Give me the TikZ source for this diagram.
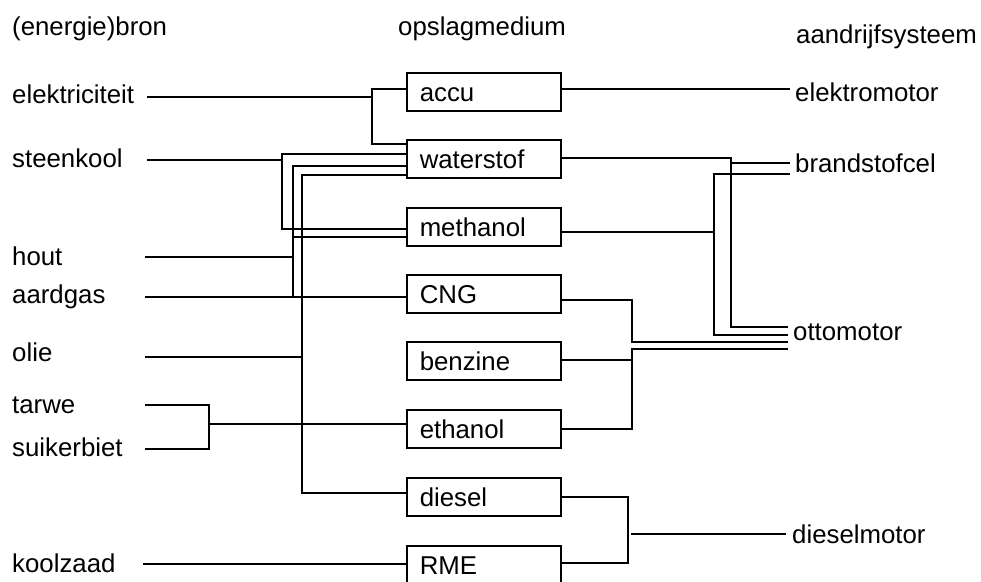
\documentclass[tikz,border=0pt]{standalone}
\usepackage{fontspec}
\setmainfont{Liberation Sans}
\begin{document}
\begin{tikzpicture}[x=1pt,y=-1pt, font=\fontsize{25.8}{30}\selectfont,
  wire/.style={line width=1.5pt},
  lab/.style={anchor=base west, inner sep=0pt},
  box/.style={draw, line width=1.5pt, anchor=north west, minimum width=154pt,
    minimum height=38pt, inner xsep=13pt, inner ysep=7pt, text height=22pt,
    text depth=2pt, text width=128pt, align=left}]
\useasboundingbox (0,0) rectangle (981,581);

% column headers
\node[lab] (hbron) at (12,35) {(energie)bron};
\node[lab] (hopslag) at (398,35) {opslagmedium};
\node[lab] (haandr) at (796,43) {aandrijfsysteem};

% sources
\node[lab] (elek) at (12,103) {elektriciteit};
\node[lab] (steen) at (12,167) {steenkool};
\node[lab] (hout) at (12,265) {hout};
\node[lab] (aard) at (12,303) {aardgas};
\node[lab] (olie) at (12,361) {olie};
\node[lab] (tarwe) at (12,413) {tarwe};
\node[lab] (suiker) at (12,456) {suikerbiet};
\node[lab] (kool) at (12,572) {koolzaad};

% storage boxes
\node[box] (accu) at (406,72) {accu};
\node[box] (waterstof) at (406,139) {waterstof};
\node[box] (methanol) at (406,207) {methanol};
\node[box] (CNG) at (406,274) {CNG};
\node[box] (benzine) at (406,341) {benzine};
\node[box] (ethanol) at (406,409) {ethanol};
\node[box] (diesel) at (406,477) {diesel};
\node[box] (RME) at (406,545) {RME};

% drive systems
\node[lab] (emotor) at (795,101) {elektromotor};
\node[lab] (bcel) at (795,172) {brandstofcel};
\node[lab] (otto) at (793,340) {ottomotor};
\node[lab] (dmotor) at (792,543) {dieselmotor};

% free ends
\coordinate (s1) at (147,97);
\coordinate (s2) at (147,160);
\coordinate (s3) at (145,257);
\coordinate (s4) at (145,297);
\coordinate (s5) at (145,357);
\coordinate (s6) at (145,405);
\coordinate (s7) at (145,449);
\coordinate (s8) at (143,564);
\coordinate (e1) at (790,89);
\coordinate (b1) at (790,163);
\coordinate (b2) at (790,174);
\coordinate (o1) at (788,327);
\coordinate (o2) at (788,335);
\coordinate (o3) at (788,342);
\coordinate (o4) at (788,349);
\coordinate (d1) at (786,534);

% left wiring
\draw[wire] (s1) -- (372,97);
\draw[wire] (accu.west |- 0,89) -| (372,144) -- (waterstof.west |- 0,144);
\draw[wire] (s2) -- (282,160);
\draw[wire] (waterstof.west |- 0,154) -| (282,229) -- (methanol.west |- 0,229);
\draw[wire] (waterstof.west |- 0,166) -| (293,297);
\draw[wire] (293,237) -- (methanol.west |- 0,237);
\draw[wire] (s3) -- (293,257);
\draw[wire] (s4) -- (CNG.west |- 0,297);
\draw[wire] (waterstof.west |- 0,175) -| (302,493) -- (diesel.west |- 0,493);
\draw[wire] (s5) -- (302,357);
\draw[wire] (s6) -| (209,449) -- (s7);
\draw[wire] (209,424) -- (ethanol.west |- 0,424);
\draw[wire] (s8) -- (RME.west |- 0,564);

% right wiring
\draw[wire] (accu.east |- 0,89) -- (e1);
\draw[wire] (waterstof.east |- 0,158) -| (731,327) -- (o1);
\draw[wire] (731,163) -- (b1);
\draw[wire] (methanol.east |- 0,232) -- (714,232);
\draw[wire] (b2) -| (714,335) -- (o2);
\draw[wire] (CNG.east |- 0,300) -| (632,342) -- (o3);
\draw[wire] (o4) -| (632,429) -- (ethanol.east |- 0,429);
\draw[wire] (benzine.east |- 0,360) -- (632,360);
\draw[wire] (diesel.east |- 0,497) -| (628,563) -- (RME.east |- 0,563);
\draw[wire] (631,534) -- (d1);
\end{tikzpicture}
\end{document}
